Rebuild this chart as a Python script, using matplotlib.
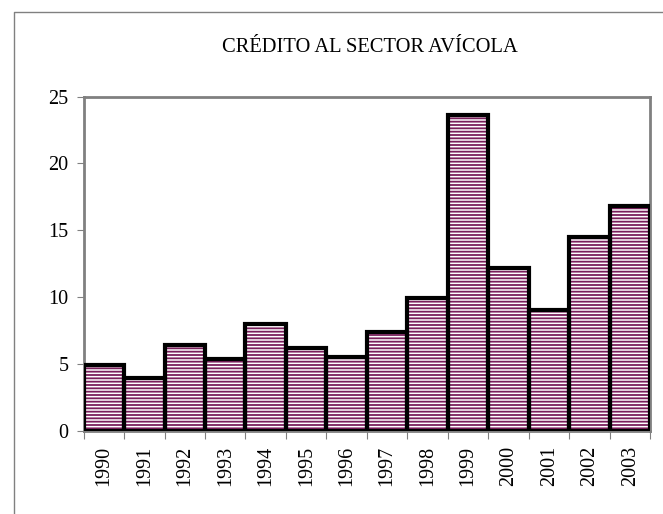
import matplotlib.pyplot as plt
from matplotlib.lines import Line2D

years = ["1990", "1991", "1992", "1993", "1994", "1995", "1996",
         "1997", "1998", "1999", "2000", "2001", "2002", "2003"]
credito = [4.9, 3.95, 6.45, 5.4, 8.0, 6.2, 5.55,
           7.4, 9.95, 23.65, 12.2, 9.0, 14.5, 16.8]


def main():
    plt.rcParams["font.family"] = ["Liberation Serif", "DejaVu Serif"]
    plt.rcParams["hatch.linewidth"] = 1.3

    fig = plt.figure(figsize=(6.63, 5.14), dpi=100)
    ax = fig.add_axes([0.126, 0.162, 0.855, 0.650])

    x = list(range(len(years)))
    ax.bar(x, credito, width=1.0, color="white", edgecolor="#7a1f5c",
           hatch="-----", linewidth=0, zorder=2)
    ax.bar(x, credito, width=1.0, fill=False, edgecolor="black",
           linewidth=3, zorder=3)

    ax.set_xlim(-0.5, len(years) - 0.5)
    ax.set_ylim(0, 25)
    ax.set_yticks([0, 5, 10, 15, 20, 25])
    ax.set_xticks([i - 0.5 for i in range(len(years) + 1)], minor=False)
    ax.set_xticklabels([])
    ax.set_xticks(x, minor=True)
    ax.set_xticklabels(years, minor=True, rotation=90, fontsize=14.5)
    ax.tick_params(axis="x", which="minor", length=0, pad=11)
    ax.tick_params(axis="x", which="major", length=6, color="#808080")
    ax.tick_params(axis="y", length=5, color="#808080", labelsize=14.5, pad=6)

    for side in ["left", "right", "top", "bottom"]:
        ax.spines[side].set_color("#808080")
        ax.spines[side].set_linewidth(2)

    fig.text(0.558, 0.908, "CRÉDITO AL SECTOR AVÍCOLA", ha="center",
             va="center", fontsize=14.8)

    # outer frame (left and top only)
    fig.add_artist(Line2D([14 / 663, 14 / 663, 1.0],
                          [0.0, 1 - 12 / 514, 1 - 12 / 514],
                          transform=fig.transFigure, color="#808080",
                          linewidth=1))

    fig.savefig("out.png", dpi=100)


if __name__ == "__main__":
    main()
